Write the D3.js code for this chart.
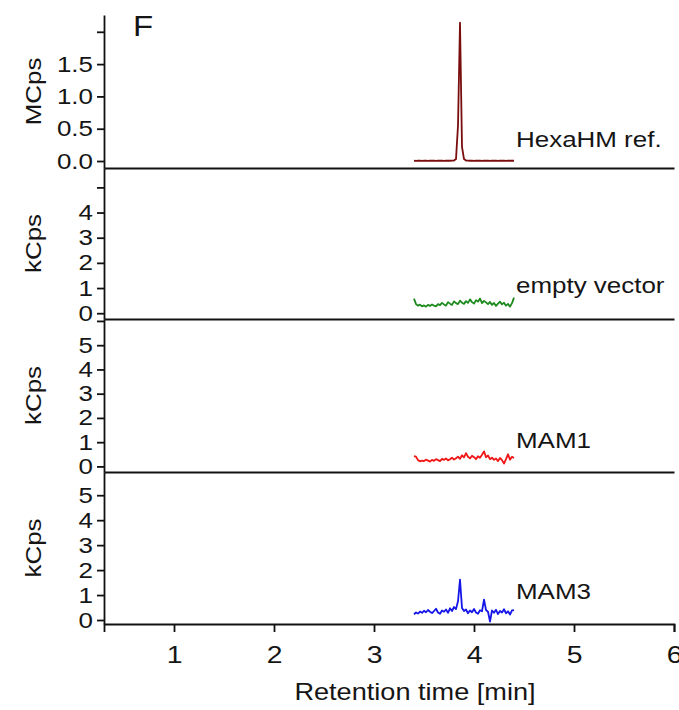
<!DOCTYPE html>
<html>
<head>
<meta charset="utf-8">
<script src="https://cdn.jsdelivr.net/npm/d3@7"></script>
<style>
body { margin: 0; background: #fff; }
text { font-family: "Liberation Sans", Arial, sans-serif; fill: #151515; }
</style>
</head>
<body>
<svg></svg>
<script>

// retention time of each scan [min]
var times = [3.40,3.42,3.44,3.46,3.48,3.50,3.52,3.54,3.56,3.58,3.60,3.62,3.64,3.66,3.68,3.70,3.72,3.74,3.76,3.78,
	3.80,3.82,3.84,3.86,3.88,3.90,3.92,3.94,3.96,3.98,4.00,4.02,4.04,4.06,4.08,4.10,4.12,4.14,4.16,4.18,
	4.20,4.22,4.24,4.26,4.28,4.30,4.32,4.34,4.36,4.38,4.40];

// MCps
var hexaHM = [0.004,0.003,0.005,0.004,0.003,0.004,0.005,0.003,0.004,0.004,0.005,0.003,0.004,0.005,0.004,0.003,0.004,0.005,0.004,0.006,
	0.008,0.03,0.55,2.14,0.22,0.03,0.008,0.005,0.004,0.005,0.003,0.004,0.005,0.004,0.003,0.004,0.005,0.004,0.003,0.004,
	0.005,0.004,0.003,0.004,0.005,0.004,0.003,0.004,0.005,0.004,0.004];

// kCps
var emptyVector = [0.58,0.36,0.30,0.34,0.27,0.31,0.26,0.33,0.29,0.35,0.30,0.27,0.36,0.32,0.41,0.35,0.30,0.44,0.38,0.33,
	0.47,0.40,0.36,0.50,0.42,0.37,0.48,0.41,0.55,0.44,0.38,0.52,0.46,0.58,0.40,0.49,0.43,0.36,0.45,0.33,
	0.41,0.29,0.38,0.46,0.35,0.42,0.30,0.37,0.26,0.40,0.62];
var mam1 = [0.42,0.40,0.26,0.21,0.24,0.22,0.28,0.24,0.20,0.27,0.23,0.30,0.26,0.22,0.31,0.27,0.33,0.25,0.30,0.36,
	0.28,0.34,0.40,0.31,0.46,0.37,0.55,0.40,0.33,0.44,0.38,0.30,0.42,0.36,0.48,0.62,0.38,0.45,0.30,0.36,
	0.27,0.33,0.22,0.35,0.26,0.12,0.30,0.50,0.28,0.40,0.35];
var mam3 = [0.23,0.30,0.26,0.34,0.29,0.37,0.31,0.40,0.33,0.28,0.36,0.45,0.30,0.25,0.38,0.33,0.42,0.29,0.47,0.36,
	0.52,0.44,0.75,1.62,0.48,0.36,0.42,0.27,0.38,0.31,0.44,0.30,0.25,0.39,0.35,0.82,0.40,0.33,-0.06,0.38,
	0.29,0.41,0.24,0.36,0.30,0.43,0.27,0.35,0.22,0.39,0.40];

var traceNames = ["HexaHM ref.", "empty vector", "MAM1", "MAM3"];
var unitNames = ["MCps", "kCps", "kCps", "kCps"];
var yTicks = [[0, 0.5, 1, 1.5, 2], [0, 1, 2, 3, 4, 5], [0, 1, 2, 3, 4, 5, 6], [0, 1, 2, 3, 4, 5]];
var yTickLabels = [["0.0", "0.5", "1.0", "1.5", ""], ["0", "1", "2", "3", "4", ""],
	["0", "1", "2", "3", "4", "5", ""], ["0", "1", "2", "3", "4", "5"]];
var xTicks = [1, 2, 3, 4, 5, 6];
var xTickLabels = ["1", "2", "3", "4", "5", "6"];
var xTitle = "Retention time [min]";
var panelLetter = "F";

var w = 679,
    h = 710,
    left = 104,
    right = 674,
    sx = 1.18;

var traces = [hexaHM, emptyVector, mam1, mam3];
var colors = ["#7a0d0d", "#1c8a1c", "#f01616", "#1616e8"];

// pixel layout of the four stacked panels
var panels = [
	{top: 15,  bottom: 168, domain: [-0.108, 2.26], labelY: 147},
	{top: 168, bottom: 319, domain: [-0.23, 5.77],  labelY: 293},
	{top: 319, bottom: 472, domain: [-0.23, 6.08],  labelY: 448},
	{top: 472, bottom: 624, domain: [-0.16, 5.93],  labelY: 599}
];

var svg = d3.select("svg")
	.attr("width", w)
	.attr("height", h)
	.style("background-color", "white");

var x = d3.scaleLinear()
	.domain([0.3, 6])
	.range([left, right]);

// stretch text a bit wider, the figure font is broader than Arial
function stretch(sel, k) {
	sel.each(function () {
		var t = d3.select(this);
		var tx = +t.attr("x") || 0, ty = +t.attr("y") || 0;
		t.attr("x", 0).attr("y", 0)
			.attr("transform", "translate(" + tx + "," + ty + ") scale(" + k + ",1)");
	});
}

panels.forEach(function (p, i) {
	var y = d3.scaleLinear()
		.domain(p.domain)
		.range([p.bottom, p.top]);

	var yAxis = svg.append("g")
		.attr("transform", "translate(" + left + ",0)")
		.call(d3.axisLeft(y)
			.tickValues(yTicks[i])
			.tickFormat(function (d, j) { return yTickLabels[i][j]; })
			.tickSize(7)
			.tickPadding(4)
			.tickSizeOuter(0));
	yAxis.selectAll("text").style("font-size", "22px");
	stretch(yAxis.selectAll("text"), sx);

	// horizontal line at the bottom of each panel
	var xAxis = d3.axisBottom(x).tickSizeOuter(0);
	if (i < panels.length - 1) {
		xAxis.tickValues([]);
	} else {
		xAxis.tickValues(xTicks)
			.tickFormat(function (d, j) { return xTickLabels[j]; })
			.tickSize(8)
			.tickPadding(14);
	}
	var gx = svg.append("g")
		.attr("transform", "translate(0," + p.bottom + ")")
		.call(xAxis);
	gx.selectAll("text").style("font-size", "24px");
	stretch(gx.selectAll("text"), sx);

	svg.append("text")
		.attr("transform", "translate(41," + ((p.top + p.bottom) / 2) + ") rotate(-90) scale(" + sx + ",1)")
		.attr("text-anchor", "middle")
		.style("font-size", "22px")
		.text(unitNames[i]);

	var line = d3.line()
		.x(function (d, j) { return x(times[j]); })
		.y(function (d) { return y(d); });

	svg.append("path")
		.datum(traces[i])
		.attr("d", line)
		.attr("fill", "none")
		.attr("stroke", colors[i])
		.attr("stroke-width", 1.8)
		.attr("stroke-linejoin", "round");

	svg.append("text")
		.attr("transform", "translate(516," + p.labelY + ") scale(" + sx + ",1)")
		.style("font-size", "22px")
		.text(traceNames[i]);
});

svg.selectAll(".domain, .tick line")
	.attr("stroke", "#111")
	.attr("stroke-width", 1.8);

svg.append("text")
	.attr("transform", "translate(415,700) scale(" + sx + ",1)")
	.attr("text-anchor", "middle")
	.style("font-size", "23px")
	.text(xTitle);

svg.append("text")
	.attr("transform", "translate(133,36) scale(1.1,1)")
	.style("font-size", "30px")
	.text(panelLetter);

</script>
</body>
</html>
